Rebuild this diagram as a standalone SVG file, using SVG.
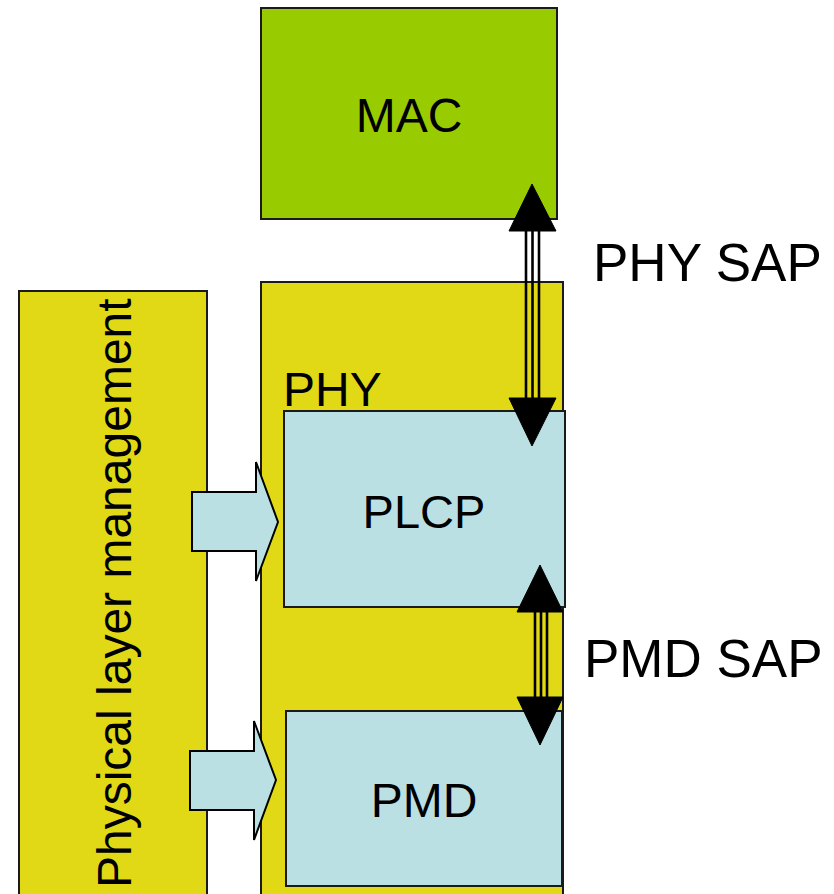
<svg xmlns="http://www.w3.org/2000/svg" width="834" height="894" viewBox="0 0 834 894">
<style>
.box{stroke:#1a1a1a;stroke-width:2}
.mac{fill:#99cc00}
.yel{fill:#e1d916}
.blue{fill:#bbe0e3}
.t{font-family:"Liberation Sans",Arial,sans-serif;font-size:48px;fill:#000}
.big{font-size:53px}
.head{fill:#000;stroke:#000;stroke-width:1}
.shaft{stroke:#000;stroke-width:2.6}
.blk{fill:#bbe0e3;stroke:#000;stroke-width:2;stroke-linejoin:miter}
</style>
<rect width="834" height="894" fill="#fff"/>
<g id="mac">
<rect class="box mac" x="261" y="8" width="296" height="211"/>
<text class="t" x="409" y="132" text-anchor="middle">MAC</text>
</g>
<g id="phy">
<rect class="box yel" x="261" y="282" width="302" height="620"/>
<text class="t" x="283" y="406">PHY</text>
</g>
<g id="mgmt">
<rect class="box yel" x="19" y="291" width="188" height="611"/>
<text class="t" transform="translate(131,888) rotate(-90)">Physical layer management</text>
</g>
<g id="plcp">
<rect class="box blue" x="284" y="411" width="281" height="196"/>
<text class="t" x="424" y="528" text-anchor="middle" style="font-size:47px">PLCP</text>
</g>
<g id="pmd">
<rect class="box blue" x="286" y="711" width="276" height="175"/>
<text class="t" x="424" y="817" text-anchor="middle">PMD</text>
</g>
<g id="phy-sap-label">
<text class="t big" x="593" y="281">PHY SAP</text>
</g>
<g id="pmd-sap-label">
<text class="t big" x="584" y="677">PMD SAP</text>
</g>
<g id="connectors">
<polygon class="blk" points="192,492 256,492 256,462 278,522 256,581 256,551 192,551"/>
<polygon class="blk" points="190,751 254,751 254,721 276,780 254,840 254,810 190,810"/>
<g id="phy-sap">
<line class="shaft" x1="526" y1="229" x2="526" y2="400"/>
<line class="shaft" x1="532.5" y1="229" x2="532.5" y2="400"/>
<line class="shaft" x1="539" y1="229" x2="539" y2="400"/>
<polygon class="head" points="532,184 556,231 509,231"/>
<polygon class="head" points="509,398 556,398 532,446"/>
</g>
<g id="pmd-sap">
<line class="shaft" x1="535" y1="610" x2="535" y2="699"/>
<line class="shaft" x1="541" y1="610" x2="541" y2="699"/>
<line class="shaft" x1="547" y1="610" x2="547" y2="699"/>
<polygon class="head" points="540,565 563,612 517,612"/>
<polygon class="head" points="517,697 563,697 540,745"/>
</g>
</g>
</svg>
